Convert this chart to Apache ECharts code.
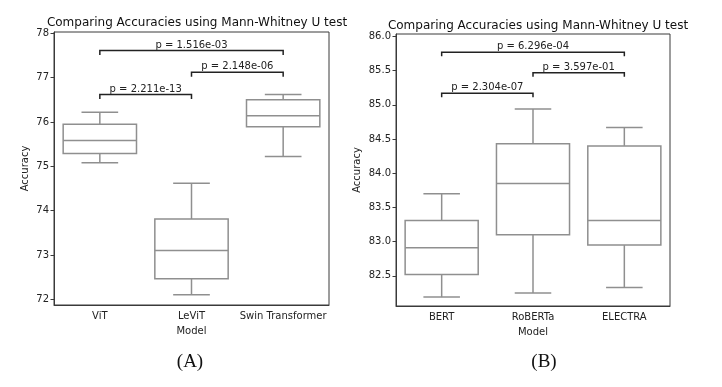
<!DOCTYPE html>
<html>
<head>
<meta charset="utf-8">
<script src="https://cdn.jsdelivr.net/npm/echarts@6/dist/echarts.min.js"></script>
<style>
  html, body { margin: 0; padding: 0; background: #fff; }
  #chart { width: 722px; height: 387px; }
</style>
</head>
<body>
<div id="chart"></div>
<script>
// panel A
var leftModels = ['ViT', 'LeViT', 'Swin Transformer'];
// [low whisker, Q1, median, Q3, high whisker]
var leftStats = [
  [75.08, 75.29, 75.58, 75.95, 76.22],
  [72.10, 72.46, 73.10, 73.81, 74.62],
  [75.22, 75.89, 76.14, 76.50, 76.62]
];
var leftPairs = [[0, 1], [1, 2], [0, 2]];
var leftPLabels = ['p = 2.211e-13', 'p = 2.148e-06', 'p = 1.516e-03'];
var leftBracketY = [76.62, 77.12, 77.61];
var leftLeg = 0.1;
var leftTicks = [72, 73, 74, 75, 76, 77, 78];
var leftRange = [71.87, 78.03];

// panel B
var rightModels = ['BERT', 'RoBERTa', 'ELECTRA'];
var rightStats = [
  [82.19, 82.52, 82.91, 83.31, 83.70],
  [82.25, 83.10, 83.85, 84.43, 84.94],
  [82.33, 82.95, 83.31, 84.40, 84.67]
];
var rightPairs = [[0, 1], [1, 2], [0, 2]];
var rightPLabels = ['p = 2.304e-07', 'p = 3.597e-01', 'p = 6.296e-04'];
var rightBracketY = [85.17, 85.47, 85.77];
var rightLeg = 0.06;
var rightTicks = [82.5, 83.0, 83.5, 84.0, 84.5, 85.0, 85.5, 86.0];
var rightRange = [82.06, 86.035];

var FONT = 'DejaVu Sans';
var BOX = '#8f8f8f';
var SPINE = '#3a3a3a';

function boxData(stats) {
  return stats.map(function (s, i) { return [i].concat(s); });
}
function bracketData(pairs, ys, leg) {
  return pairs.map(function (p, i) { return [p[0], p[1], ys[i], ys[i] - leg]; });
}

function renderBox(params, api) {
  var c = api.value(0);
  var band = api.size([1, 0])[0];
  var hb = band * 0.4, hc = band * 0.2;
  var pLow = api.coord([c, api.value(1)]);
  var pQ1 = api.coord([c, api.value(2)]);
  var pMed = api.coord([c, api.value(3)]);
  var pQ3 = api.coord([c, api.value(4)]);
  var pHigh = api.coord([c, api.value(5)]);
  var x = pMed[0];
  var st = { stroke: BOX, lineWidth: 1.5, fill: null };
  return {
    type: 'group',
    children: [
      { type: 'line', shape: { x1: x, y1: pQ3[1], x2: x, y2: pHigh[1] }, style: st },
      { type: 'line', shape: { x1: x, y1: pQ1[1], x2: x, y2: pLow[1] }, style: st },
      { type: 'line', shape: { x1: x - hc, y1: pHigh[1], x2: x + hc, y2: pHigh[1] }, style: st },
      { type: 'line', shape: { x1: x - hc, y1: pLow[1], x2: x + hc, y2: pLow[1] }, style: st },
      { type: 'rect', shape: { x: x - hb, y: pQ3[1], width: hb * 2, height: pQ1[1] - pQ3[1] },
        style: { stroke: BOX, lineWidth: 1.5, fill: '#fff' } },
      { type: 'line', shape: { x1: x - hb, y1: pMed[1], x2: x + hb, y2: pMed[1] }, style: st }
    ]
  };
}

function makeBracketRenderer(labels) {
  return function (params, api) {
    var a = api.coord([api.value(0), api.value(2)]);
    var b = api.coord([api.value(1), api.value(2)]);
    var aLeg = api.coord([api.value(0), api.value(3)]);
    return {
      type: 'group',
      children: [
        { type: 'polyline',
          shape: { points: [[a[0], aLeg[1]], a, b, [b[0], aLeg[1]]] },
          style: { stroke: '#222', lineWidth: 1.5, fill: null } },
        { type: 'text',
          style: { x: (a[0] + b[0]) / 2, y: a[1] - 0.5, text: labels[params.dataIndex],
            align: 'center', verticalAlign: 'bottom', fill: '#222',
            font: '10px "' + FONT + '"' } }
      ]
    };
  };
}

function xAxisOf(idx, names) {
  return {
    type: 'category', gridIndex: idx, data: names, boundaryGap: true,
    name: 'Model', nameLocation: 'middle', nameGap: 21,
    nameTextStyle: { fontFamily: FONT, fontSize: 10, color: '#222' },
    axisLine: { lineStyle: { color: SPINE, width: 1 } },
    axisTick: { alignWithLabel: true, length: 3.5, lineStyle: { color: SPINE } },
    axisLabel: { fontFamily: FONT, fontSize: 10, color: '#222', margin: 6, interval: 0 },
    splitLine: { show: false }
  };
}
function yAxisOf(idx, range, ticks, gap, digits) {
  return {
    type: 'value', gridIndex: idx, min: range[0], max: range[1],
    name: 'Accuracy', nameLocation: 'middle', nameGap: gap, nameRotate: 90,
    nameTextStyle: { fontFamily: FONT, fontSize: 10, color: '#222' },
    axisLine: { show: true, lineStyle: { color: SPINE, width: 1 } },
    axisTick: { show: true, length: 3.5, customValues: ticks, lineStyle: { color: SPINE } },
    axisLabel: { fontFamily: FONT, fontSize: 10, color: '#222', margin: 5, customValues: ticks,
      formatter: function (v) { return v.toFixed(digits); } },
    splitLine: { show: false }
  };
}

var chart = echarts.init(document.getElementById('chart'), null, { renderer: 'canvas' });
chart.setOption({
  animation: false,
  backgroundColor: '#fff',
  title: [
    { text: 'Comparing Accuracies using Mann-Whitney U test', left: 192, top: 12, textAlign: 'center',
      textStyle: { fontFamily: FONT, fontSize: 12, fontWeight: 'normal', color: '#111' } },
    { text: 'Comparing Accuracies using Mann-Whitney U test', left: 533, top: 15, textAlign: 'center',
      textStyle: { fontFamily: FONT, fontSize: 12, fontWeight: 'normal', color: '#111' } },
    { text: '(A)', left: 185, top: 348, textAlign: 'center',
      textStyle: { fontFamily: 'Liberation Serif', fontSize: 19, fontWeight: 'normal', color: '#111' } },
    { text: '(B)', left: 539, top: 348, textAlign: 'center',
      textStyle: { fontFamily: 'Liberation Serif', fontSize: 19, fontWeight: 'normal', color: '#111' } }
  ],
  grid: [
    { left: 54, top: 32, width: 275, height: 273, show: true, borderColor: SPINE, borderWidth: 1, backgroundColor: 'transparent' },
    { left: 396, top: 34, width: 274, height: 272, show: true, borderColor: SPINE, borderWidth: 1, backgroundColor: 'transparent' }
  ],
  xAxis: [xAxisOf(0, leftModels), xAxisOf(1, rightModels)],
  yAxis: [yAxisOf(0, leftRange, leftTicks, 24, 0), yAxisOf(1, rightRange, rightTicks, 34, 1)],
  series: [
    { type: 'custom', xAxisIndex: 0, yAxisIndex: 0, renderItem: renderBox,
      data: boxData(leftStats), encode: { x: 0, y: [1, 2, 3, 4, 5] } },
    { type: 'custom', xAxisIndex: 0, yAxisIndex: 0, renderItem: makeBracketRenderer(leftPLabels),
      data: bracketData(leftPairs, leftBracketY, leftLeg), encode: { x: [0, 1], y: [2, 3] } },
    { type: 'custom', xAxisIndex: 1, yAxisIndex: 1, renderItem: renderBox,
      data: boxData(rightStats), encode: { x: 0, y: [1, 2, 3, 4, 5] } },
    { type: 'custom', xAxisIndex: 1, yAxisIndex: 1, renderItem: makeBracketRenderer(rightPLabels),
      data: bracketData(rightPairs, rightBracketY, rightLeg), encode: { x: [0, 1], y: [2, 3] } }
  ]
});
</script>
</body>
</html>
